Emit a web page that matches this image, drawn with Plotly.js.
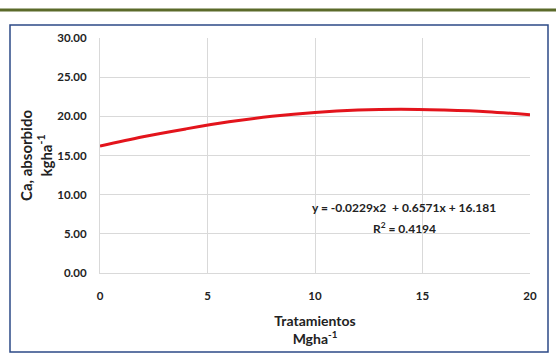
<!DOCTYPE html>
<html><head><meta charset="utf-8">
<script src="https://cdn.plot.ly/plotly-3.0.1.min.js"></script>
<style>html,body{margin:0;padding:0;background:#fff}#c{width:556px;height:360px}</style>
</head><body><div id="c"></div>
<script>
const tratamientos = [0, 2, 4, 6, 8, 10, 12, 14, 16, 18, 20];
const caAbsorbido = [16.2, 17.4, 18.4, 19.3, 20.0, 20.5, 20.8, 20.9, 20.8, 20.6, 20.2];
const yTicks = [0, 5, 10, 15, 20, 25, 30];
const xTicks = [0, 5, 10, 15, 20];
const eqText = 'y = -0.0229x2  + 0.6571x + 16.181';
const r2Text = 'R<sup>2</sup> = 0.4194';

const W = 430, H = 235, L = 100, B = 273;
const px = x => (x - L) / W, py = y => (B - y) / H;
const F = 'Lato, "Open Sans", sans-serif';

Plotly.newPlot('c', [{
  x: tratamientos, y: caAbsorbido, type: 'scatter', mode: 'lines',
  line: {color: '#e3141c', width: 3, shape: 'spline'}, hoverinfo: 'skip'
}], {
  width: 556, height: 360,
  margin: {l: 100, r: 26, t: 38, b: 87},
  paper_bgcolor: '#fff', plot_bgcolor: '#fff',
  showlegend: false,
  font: {family: F, color: '#222', size: 11},
  xaxis: {range: [0, 20], tickvals: xTicks, ticktext: xTicks.map(String),
    showgrid: true, gridcolor: '#d9d9d9', zeroline: false, showline: true, linecolor: '#d9d9d9',
    ticks: '', tickfont: {family: F, size: 11.5, color: '#222', weight: 'bold'}, ticklabelstandoff: 12,
    title: {text: '<b>Tratamientos</b><br><b>Mgha<sup>-1</sup></b>', font: {family: F, size: 14, color: '#222'}, standoff: 15}},
  yaxis: {range: [0, 30], tickvals: yTicks, tickformat: '.2f',
    showgrid: true, gridcolor: '#d9d9d9', zeroline: false, showline: true, linecolor: '#d9d9d9',
    ticks: '', tickfont: {family: F, size: 11.5, color: '#222', weight: 'bold'}, ticklabelstandoff: 10,
    title: {text: '<b>Ca, absorbido</b><br><b>kgha<sup>-1</sup></b>', font: {family: F, size: 15, color: '#222'}, standoff: 1}},
  shapes: [
    {type: 'line', xref: 'paper', yref: 'paper', x0: px(0), x1: px(556), y0: py(10), y1: py(10), line: {color: '#5b6a2a', width: 3}},
    {type: 'rect', xref: 'paper', yref: 'paper', x0: px(10), x1: px(548), y0: py(25), y1: py(352), line: {color: '#2c4a86', width: 1.5}}
  ],
  annotations: [
    {xref: 'x', yref: 'y', x: 14.15, y: 8.3, text: '<b>' + eqText + '</b>', showarrow: false, font: {family: F, size: 12, color: '#222'}},
    {xref: 'x', yref: 'y', x: 14.15, y: 5.8, text: '<b>' + r2Text + '</b>', showarrow: false, font: {family: F, size: 12, color: '#222'}}
  ]
}, {staticPlot: true});
</script></body></html>
